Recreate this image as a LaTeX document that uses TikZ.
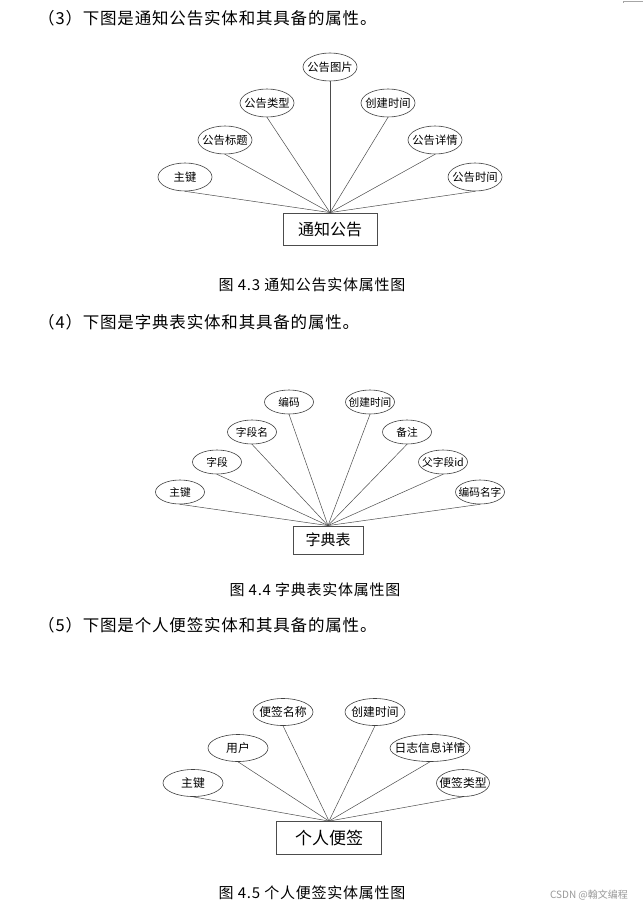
\documentclass[tikz,border=0pt]{standalone}
\usepackage{fontspec}
\setmainfont{Noto Sans CJK SC}
\newfontfamily\spacedfont[LetterSpace=5]{Noto Sans CJK SC}
\usetikzlibrary{shapes.geometric}
\newcommand{\attrtxt}[1]{\makebox[0pt][c]{#1}}
\begin{document}
\begin{tikzpicture}[x=1pt,y=-1pt,
  attrA/.style={ellipse,draw=black!75,line width=0.6pt,inner sep=0pt,minimum width=54pt,minimum height=28pt,font=\fontsize{11.3}{13}\selectfont},
  attrB/.style={ellipse,draw=black!75,line width=0.6pt,inner sep=0pt,minimum width=49pt,minimum height=24pt,font=\fontsize{10.7}{12}\selectfont},
  attrC/.style={ellipse,draw=black!75,line width=0.6pt,inner sep=0pt,minimum width=60pt,minimum height=27pt,font=\fontsize{11.8}{13}\selectfont},
  ent/.style={rectangle,draw=black!70,line width=0.8pt,inner sep=0pt},
  link/.style={draw=black!70,line width=0.5pt},
  head/.style={anchor=west,inner sep=0pt,font=\spacedfont\fontsize{16.5}{18}\selectfont},
  captxt/.style={inner sep=0pt,font=\spacedfont\fontsize{15}{17}\selectfont}]
\useasboundingbox (0,0) rectangle (643,912);
\fill[white] (0,0) rectangle (643,912);
\draw[black!35,line width=0.6pt] (623,3) -- (623,1) -- (643,1);

% headers and captions
\node[head] (h1) at (38,18) {（3）下图是通知公告实体和其具备的属性。};
\node[head] (h2) at (38,322) {（4）下图是字典表实体和其具备的属性。};
\node[head] (h3) at (38,625) {（5）下图是个人便签实体和其具备的属性。};
\node[captxt] (cap1) at (312,285) {图 4.3 通知公告实体属性图};
\node[captxt] (cap2) at (315,590) {图 4.4 字典表实体属性图};
\node[captxt] (cap3) at (312,893) {图 4.5 个人便签实体属性图};
\node[inner sep=0pt,text=black!40,font=\fontsize{10}{12}\selectfont] (wm) at (589,895) {CSDN @翰文编程};

% diagram 1
\node[ent,minimum width=94pt,minimum height=32pt,font=\fontsize{16}{18}\selectfont] (E1) at (330,229) {通知公告};
\node[attrA] (a1) at (185,177) {\attrtxt{主键}};
\node[attrA] (a2) at (225,140) {\attrtxt{公告标题}};
\node[attrA] (a3) at (267,103) {\attrtxt{公告类型}};
\node[attrA] (a4) at (330,67) {\attrtxt{公告图片}};
\node[attrA] (a5) at (388,103) {\attrtxt{创建时间}};
\node[attrA] (a6) at (435,140) {\attrtxt{公告详情}};
\node[attrA] (a7) at (475,177) {\attrtxt{公告时间}};
\foreach \n in {a1,a2,a3,a4,a5,a6,a7} \draw[link] (\n.south) -- (E1.north);

% diagram 2
\node[ent,minimum width=70pt,minimum height=28pt,font=\fontsize{15}{17}\selectfont] (E2) at (328,540) {字典表};
\node[attrB] (b1) at (180,492) {\attrtxt{主键}};
\node[attrB] (b2) at (217,462) {\attrtxt{字段}};
\node[attrB] (b3) at (252,432) {\attrtxt{字段名}};
\node[attrB] (b4) at (289,402) {\attrtxt{编码}};
\node[attrB] (b5) at (370,402) {\attrtxt{创建时间}};
\node[attrB] (b6) at (407,432) {\attrtxt{备注}};
\node[attrB] (b7) at (443,462) {\attrtxt{父字段id}};
\node[attrB] (b8) at (480,492) {\attrtxt{编码名字}};
\foreach \n in {b1,b2,b3,b4,b5,b6,b7,b8} \draw[link] (\n.south) -- (E2.north);

% diagram 3
\node[ent,minimum width=105pt,minimum height=33pt,font=\fontsize{17}{19}\selectfont] (E3) at (329,838) {个人便签};
\node[attrC] (c1) at (193,783) {\attrtxt{主键}};
\node[attrC] (c2) at (238,748) {\attrtxt{用户}};
\node[attrC] (c3) at (283,712) {\attrtxt{便签名称}};
\node[attrC] (c4) at (375,712) {\attrtxt{创建时间}};
\node[attrC,minimum width=80pt] (c5) at (430,748) {\attrtxt{日志信息详情}};
\node[attrC,minimum width=53pt] (c6) at (463,783) {\attrtxt{便签类型}};
\foreach \n in {c1,c2,c3,c4,c5,c6} \draw[link] (\n.south) -- (E3.north);
\end{tikzpicture}
\end{document}
